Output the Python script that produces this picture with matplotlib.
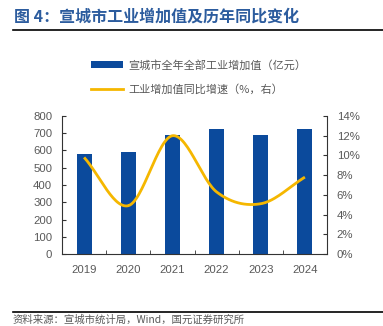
import numpy as np
import matplotlib
matplotlib.use("Agg")
import matplotlib.pyplot as plt
from matplotlib.lines import Line2D
from matplotlib.patches import Patch

plt.rcParams['font.family'] = ['Noto Sans CJK SC', 'DejaVu Sans']

years = ['2019', '2020', '2021', '2022', '2023', '2024']
value = [578, 590, 692, 725, 690, 725]
growth = [9.8, 4.9, 12.0, 6.3, 5.1, 7.8]
left_ticks = [0, 100, 200, 300, 400, 500, 600, 700, 800]
right_ticks = [0, 2, 4, 6, 8, 10, 12, 14]

title = '图 4：宣城市工业增加值及历年同比变化'
label_bar = '宣城市全年全部工业增加值（亿元）'
label_line = '工业增加值同比增速（%，右）'
source = '资料来源：宣城市统计局，Wind，国元证券研究所'

BLUE = '#0B4A9C'
YEL = '#F5B700'
GRAY = '#595959'
NUMFONT = ['Liberation Sans', 'DejaVu Sans']

W, H = 383, 326
fig = plt.figure(figsize=(W/100, H/100), dpi=100)

def fx(px): return px / W
def fy(py): return 1 - py / H

ax = fig.add_axes([fx(62), fy(254), fx(327) - fx(62), fy(116) - fy(254)])
x = np.arange(len(years))
ax.bar(x, value, width=0.34, color=BLUE, zorder=2)
ax.set_xlim(-0.5, len(years) - 0.5)
ax.set_ylim(0, 800)
ax.set_yticks(left_ticks)
ax.set_xticks(x)
ax.set_xticklabels(years, family=NUMFONT)
ax.set_yticklabels([str(v) for v in left_ticks], family=NUMFONT)
ax.set_xticks(np.arange(-0.5, len(years), 1.0)[1:-1], minor=True)
ax.tick_params(axis='x', which='major', length=0, pad=8, labelsize=8.2, labelcolor=GRAY)
ax.tick_params(axis='x', which='minor', length=3, direction='in', color='#333333')
ax.tick_params(axis='y', length=3, direction='in', labelsize=8.2, labelcolor=GRAY, pad=7, color='#333333')
for s in ['top', 'right']:
    ax.spines[s].set_visible(False)
ax.spines['left'].set_color('#333333')
ax.spines['bottom'].set_color('#333333')

ax2 = ax.twinx()
# Catmull-Rom smoothing between data points (like Excel smooth line)
pts = np.column_stack([x.astype(float), np.array(growth)])
P = np.vstack([pts[0] - (pts[1] - pts[0]), pts, pts[-1] + (pts[-1] - pts[-2])])
cx, cy = [], []
for i in range(1, len(P) - 2):
    p0, p1, p2, p3 = P[i-1], P[i], P[i+1], P[i+2]
    t = np.linspace(0, 1, 30)[:, None]
    c = 0.5 * ((2*p1) + (-p0 + p2)*t + (2*p0 - 5*p1 + 4*p2 - p3)*t**2 + (-p0 + 3*p1 - 3*p2 + p3)*t**3)
    cx.extend(c[:, 0]); cy.extend(c[:, 1])
ax2.plot(cx, cy, color=YEL, lw=2, zorder=3, solid_capstyle='butt')
ax2.set_ylim(0, 14)
ax2.set_yticks(right_ticks)
ax2.set_yticklabels([f'{v}%' for v in right_ticks], family=NUMFONT)
ax2.tick_params(axis='y', length=3, direction='in', labelsize=8.2, labelcolor=GRAY, pad=7, color='#333333')
for s in ['top', 'left', 'bottom']:
    ax2.spines[s].set_visible(False)
ax2.spines['right'].set_color('#333333')

handles = [Patch(facecolor=BLUE, edgecolor='none'), Line2D([], [], color=YEL, lw=2)]
fig.legend(handles, [label_bar, label_line], loc='upper left',
           bbox_to_anchor=(fx(91), fy(60)), frameon=False, fontsize=8.0,
           labelcolor=GRAY, handlelength=2.9, handleheight=0.6, labelspacing=1.15,
           handletextpad=0.45, borderaxespad=0, borderpad=0)

fig.text(fx(14), fy(17), title, fontsize=11.5, fontweight='bold', color='#2C5C9E', va='center', ha='left')
fig.add_artist(Line2D([fx(13), fx(383)], [fy(29.5), fy(29.5)], color='black', lw=1.2))
fig.add_artist(Line2D([fx(13), fx(383)], [fy(312), fy(312)], color='black', lw=1.2))
fig.text(fx(13), fy(320), source, fontsize=7.5, color=GRAY, va='center', ha='left')

fig.savefig('out.png', dpi=100)
